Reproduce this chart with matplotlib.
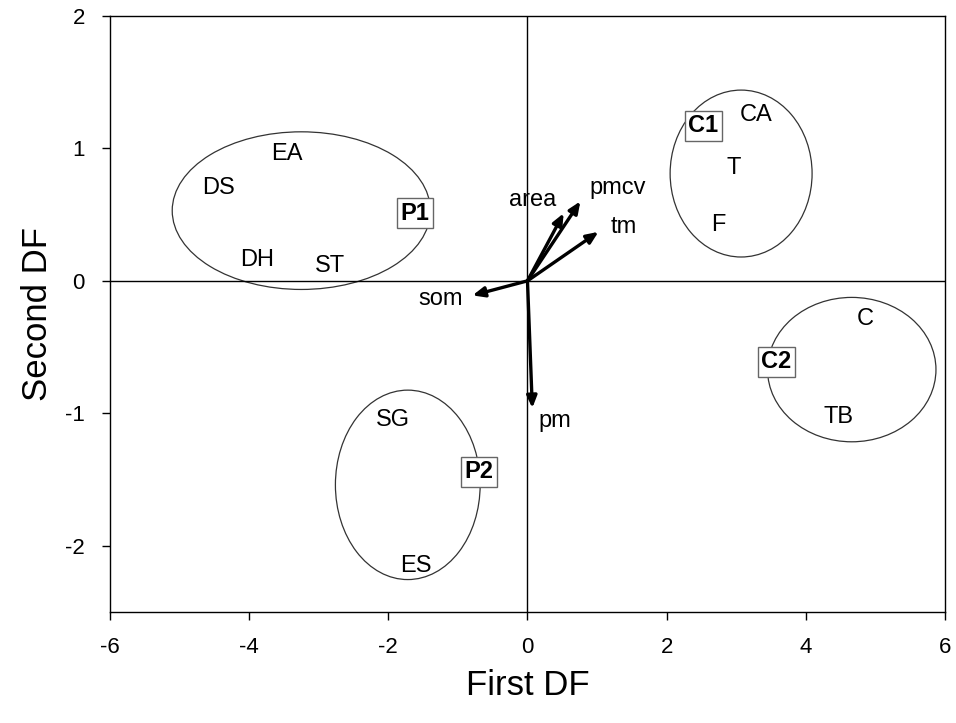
import matplotlib.pyplot as plt
from matplotlib.patches import Ellipse

plt.rcParams['font.family'] = ['Liberation Sans', 'DejaVu Sans']
plt.rcParams['axes.unicode_minus'] = False

# group ellipses: centre x, centre y, width, height
ell_x = [-3.25, 3.07, 4.66, -1.72]
ell_y = [0.53, 0.81, -0.67, -1.54]
ell_w = [3.71, 2.04, 2.42, 2.08]
ell_h = [1.19, 1.26, 1.09, 1.43]

# site labels
site_names = ['EA', 'DS', 'DH', 'ST', 'CA', 'T', 'F', 'C', 'TB', 'SG', 'ES']
site_x = [-3.46, -4.44, -3.89, -2.84, 3.29, 2.96, 2.74, 4.86, 4.47, -1.94, -1.61]
site_y = [0.96, 0.70, 0.16, 0.11, 1.25, 0.85, 0.42, -0.29, -1.03, -1.05, -2.15]

# group (boxed) labels
grp_names = ['P1', 'C1', 'C2', 'P2']
grp_x = [-1.62, 2.53, 3.58, -0.70]
grp_y = [0.51, 1.17, -0.61, -1.44]

# variable vectors
var_names = ['area', 'pmcv', 'tm', 'som', 'pm']
var_x = [0.52, 0.76, 1.02, -0.79, 0.07]
var_y = [0.51, 0.60, 0.37, -0.11, -0.96]
var_lx = [0.07, 1.29, 1.38, -1.25, 0.40]
var_ly = [0.61, 0.70, 0.41, -0.14, -1.06]

fig = plt.figure(figsize=(9.56, 7.23), dpi=100)
ax = fig.add_axes([0.115, 0.1535, 0.8735, 0.8245])

ax.axhline(0, color='black', lw=1.0)
ax.axvline(0, color='black', lw=1.0)

for cx, cy, w, h in zip(ell_x, ell_y, ell_w, ell_h):
    ax.add_patch(Ellipse((cx, cy), w, h, fill=False, edgecolor='#333333', lw=0.9))

for nm, x, y in zip(site_names, site_x, site_y):
    ax.text(x, y, nm, ha='center', va='center', fontsize=17)

for nm, x, y in zip(grp_names, grp_x, grp_y):
    ax.text(x, y, nm, ha='center', va='center', fontsize=17, fontweight='bold',
            bbox=dict(boxstyle='square,pad=0.15', facecolor='white', edgecolor='#666666', lw=1.0))

for nm, x, y, lx, ly in zip(var_names, var_x, var_y, var_lx, var_ly):
    ax.annotate('', xy=(x, y), xytext=(0, 0),
                arrowprops=dict(arrowstyle='-|>,head_length=0.7,head_width=0.3',
                                color='black', lw=2.4, shrinkA=0, shrinkB=0))
    ax.text(lx, ly, nm, ha='center', va='center', fontsize=17)

ax.set_xlim(-6, 6)
ax.set_ylim(-2.5, 2)
ax.set_xticks([-6, -4, -2, 0, 2, 4, 6])
ax.set_yticks([-2, -1, 0, 1, 2])
ax.tick_params(direction='out', length=6, width=1, labelsize=16, pad=12)
for s in ax.spines.values():
    s.set_linewidth(1.0)

ax.set_xlabel('First DF', fontsize=25, labelpad=8)
ax.set_ylabel('Second DF', fontsize=25, labelpad=8)

plt.savefig('out.png', dpi=100)
